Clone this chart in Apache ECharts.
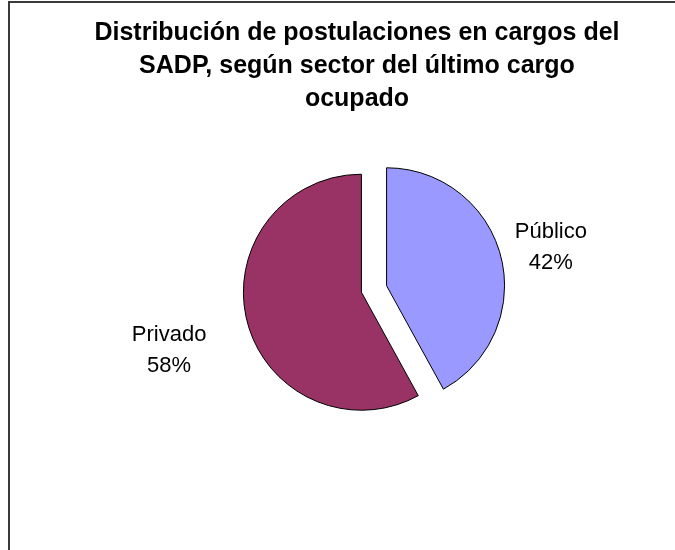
<!DOCTYPE HTML>
<html>
<head>
<meta charset="utf-8">
<title>Distribución de postulaciones SADP</title>
<style type="text/css">
html,body{margin:0;padding:0;background:#fff;overflow:hidden;}
#frame{position:absolute;left:8px;top:1px;width:700px;height:600px;border-left:2px solid #3a3a3a;border-top:2px solid #3a3a3a;}
#myChart{position:absolute;left:0;top:0;width:675px;height:550px;}
</style>
</head>
<body>
<div id="frame"></div>
<div id="myChart"></div>
<script type="text/javascript" src="https://cdn.jsdelivr.net/npm/echarts@6/dist/echarts.min.js"></script>
<script type="text/javascript">
// datos del gráfico
var sectores = ['Público', 'Privado'];
var porcentajes = [42, 58];
var colores = ['#9999FF', '#993366'];

var datos = sectores.map(function (s, i) {
    return { name: s, value: porcentajes[i], selected: true, itemStyle: { color: colores[i] } };
});

option = {
    animation: false,
    title: {
        text: 'Distribución de postulaciones en cargos del\nSADP, según sector del último cargo\nocupado',
        left: 352,
        top: 12,
        textAlign: 'center',
        textStyle: {
            fontFamily: 'Arial, "Liberation Sans"',
            fontSize: 25,
            fontWeight: 'bold',
            color: '#000',
            lineHeight: 33
        }
    },
    series: [
        {
            name: 'Sector',
            type: 'pie',
            center: [374, 289],
            radius: 118,
            startAngle: 90,
            clockwise: true,
            selectedMode: 'multiple',
            selectedOffset: 13,
            emphasis: { disabled: true },
            itemStyle: { borderColor: '#000', borderWidth: 1 },
            label: {
                show: true,
                position: 'outside',
                formatter: '{b}\n{d}%',
                fontFamily: 'Arial, "Liberation Sans"',
                fontSize: 22,
                lineHeight: 31,
                color: '#000',
                distanceToLabelLine: 0
            },
            labelLine: { show: false, length: 0, length2: 0 },
            labelLayout: function (p) {
                // posición de etiquetas como en el original
                if (p.dataIndex === 0) return { align: 'center', dx: 50, dy: -9 };
                return { align: 'center', dx: -78, dy: 29 };
            },
            data: datos
        }
    ]
};
var myChart = echarts.init(document.getElementById('myChart'));
myChart.setOption(option);
</script>
</body>
</html>
